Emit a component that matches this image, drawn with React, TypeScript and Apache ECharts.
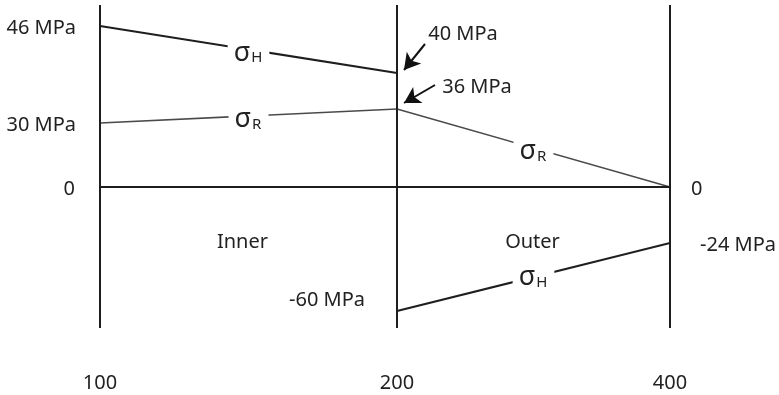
import React, { useEffect, useRef } from "react";
import * as echarts from "echarts";

// Radii (mm) and the schematic horizontal position at which each is drawn
const radii = ["100", "200", "400"];
const radiusPos = [0, 297, 570];

// Stress values (MPa) at the two ends of each segment
const hoopInnerMPa = [46, 40];
const radialInnerMPa = [30, 36];
const radialOuterMPa = [36, 0];
const hoopOuterMPa = [-60, -24];

// Schematic drawn level of each stress (diagram is not to scale)
const hoopInnerLevel = [161, 114];
const radialInnerLevel = [64, 78];
const radialOuterLevel = [78, 0];
const hoopOuterLevel = [-124, -56];

const regions = ["Inner", "Outer"];

const FONT = "'Noto Sans', 'Open Sans', sans-serif";
const TEXT = "#222";
const DARK = "#1e1e1e";
const GREY = "#4a4a4a";
const FS = 20;

const mpa = (v: number) => (v === 0 ? "0" : `${v} MPa`);

export default function App() {
  const ref = useRef<HTMLDivElement>(null);
  useEffect(() => {
    if (!ref.current) return;
    const chart = echarts.init(ref.current, undefined, { renderer: "svg" });

    const seg = (xi: [number, number], lv: number[]) => [
      [radiusPos[xi[0]], lv[0]],
      [radiusPos[xi[1]], lv[1]],
    ];

    const lineSeries = (name: string, data: number[][], color: string, width: number, extra: any = {}) => ({
      name,
      type: "line",
      data,
      symbol: "none",
      silent: true,
      z: 3,
      lineStyle: { color, width },
      ...extra,
    });

    const sigmaLabel = (sub: string, p: number[][], dy = 0) => ({
      value: [(p[0][0] + p[1][0]) / 2, (p[0][1] + p[1][1]) / 2 + dy],
      label: {
        show: true,
        position: "inside",
        formatter: `{s|σ}{b|${sub}}`,
        backgroundColor: "#fff",
        padding: [0, 7, 0, 6],
        rich: {
          s: { fontSize: 27, fontFamily: FONT, color: TEXT, lineHeight: 28, verticalAlign: "bottom" },
          b: { fontSize: 15, fontFamily: FONT, color: TEXT, lineHeight: 28, verticalAlign: "bottom", padding: [14, 0, 0, 1] },
        },
      },
    });

    const pHI = seg([0, 1], hoopInnerLevel);
    const pRI = seg([0, 1], radialInnerLevel);
    const pRO = seg([1, 2], radialOuterLevel);
    const pHO = seg([1, 2], hoopOuterLevel);

    const txt = (text: string, x: number, y: number, position: any, distance = 5) => ({
      value: [x, y],
      label: { show: true, formatter: text, position, distance, fontSize: FS, fontFamily: FONT, color: TEXT },
    });

    const annotations = [
      txt(mpa(hoopInnerMPa[0]), radiusPos[0], hoopInnerLevel[0], "left", 24),
      txt(mpa(radialInnerMPa[0]), radiusPos[0], radialInnerLevel[0], "left", 24),
      txt(mpa(0), radiusPos[0], 0, "left", 25),
      txt(mpa(radialOuterMPa[1]), radiusPos[2], 0, "right", 21),
      txt(mpa(hoopOuterMPa[1]), radiusPos[2], hoopOuterLevel[1], "right", 30),
      txt(mpa(hoopOuterMPa[0]), radiusPos[1], hoopOuterLevel[0] + 13, "left", 32),
      txt(mpa(hoopInnerMPa[1]), radiusPos[1] + 66, hoopInnerLevel[1] + 41, "inside"),
      txt(mpa(radialInnerMPa[1]), radiusPos[1] + 80, radialInnerLevel[1] + 24, "inside"),
      txt(regions[0], (radiusPos[0] + radiusPos[1]) / 2 - 6, -53, "inside"),
      txt(regions[1], (radiusPos[1] + radiusPos[2]) / 2 - 1, -53, "inside"),
    ];

    chart.setOption({
      animation: false,
      grid: { left: 100, right: 109, top: 5, bottom: 67 },
      xAxis: {
        type: "value",
        min: 0,
        max: 570,
        axisLine: { show: false },
        axisTick: { show: false },
        splitLine: { show: false },
        axisLabel: {
          customValues: radiusPos,
          formatter: (v: number) => radii[radiusPos.indexOf(v)] ?? "",
          margin: 43,
          lineHeight: 20,
          fontSize: FS,
          fontFamily: FONT,
          color: TEXT,
        },
      },
      yAxis: {
        type: "value",
        min: -141,
        max: 182,
        show: false,
      },
      series: [
        lineSeries("σH inner", pHI, DARK, 2, {
          markLine: {
            silent: true,
            symbol: "none",
            label: { show: false },
            lineStyle: { color: DARK, width: 2, type: "solid" },
            data: [...radiusPos.map((x) => ({ xAxis: x })), { yAxis: 0 }],
          },
        }),
        lineSeries("σR inner", pRI, GREY, 1.6),
        lineSeries("σR outer", pRO, GREY, 1.6, {
          markLine: {
            silent: true,
            symbol: ["none", "arrow"],
            symbolSize: [14, 16],
            label: { show: false },
            lineStyle: { color: "#111", width: 2, type: "solid" },
            itemStyle: { color: "#111" },
            data: [
              [{ coord: [radiusPos[1] + 28, hoopInnerLevel[1] + 29] }, { coord: [radiusPos[1] + 7, hoopInnerLevel[1] + 3] }],
              [{ coord: [radiusPos[1] + 38, radialInnerLevel[1] + 24] }, { coord: [radiusPos[1] + 7, radialInnerLevel[1] + 6] }],
            ],
          },
        }),
        lineSeries("σH outer", pHO, DARK, 2),
        {
          type: "scatter",
          symbolSize: 0,
          silent: true,
          z: 5,
          itemStyle: { opacity: 1 },
          data: [sigmaLabel("H", pHI), sigmaLabel("R", pRI), sigmaLabel("R", pRO), sigmaLabel("H", pHO, 3)],
        },
        {
          type: "scatter",
          symbolSize: 0,
          silent: true,
          z: 5,
          itemStyle: { opacity: 1 },
          data: annotations,
        },
      ],
    });
    return () => chart.dispose();
  }, []);
  return <div ref={ref} style={{ position: "fixed", left: 0, top: 0, width: 779, height: 395 }} />;
}
